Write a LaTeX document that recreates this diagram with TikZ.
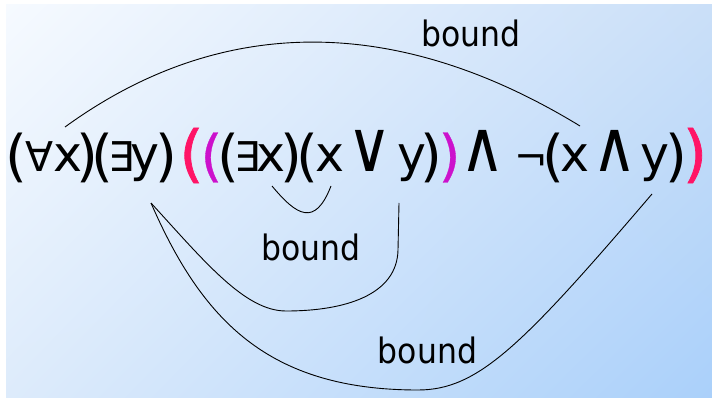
\documentclass[tikz,border=0pt]{standalone}
\usepackage{fontspec}
\usetikzlibrary{shadings}
\newfontfamily\fml{DejaVu Sans}
\newfontfamily\fmlpink[FakeBold=1.2]{DejaVu Sans}
\newfontfamily\fmlmag[FakeBold=0.6]{DejaVu Sans}
\newfontfamily\lbl{DejaVu Sans Condensed}
\definecolor{pinkp}{HTML}{FF1466}
\definecolor{magp}{HTML}{CC11CC}
\definecolor{bgA}{HTML}{F6FAFF}
\definecolor{bgB}{HTML}{CADFF8}
\definecolor{bgC}{HTML}{DDEBFB}
\definecolor{bgD}{HTML}{AAD0FA}
\newcommand{\opsym}[1]{\scalebox{1.22}[1.42]{#1}}
\tikzset{
  glyph/.style={anchor=base, inner sep=0pt, outer sep=0pt, font=\fml\fontsize{49}{49}\selectfont},
  quant/.style={anchor=base, inner sep=0pt, outer sep=0pt, font=\fml\fontsize{41}{41}\selectfont},
  oper/.style={anchor=base, inner sep=0pt, outer sep=0pt, font=\fml\fontsize{50}{50}\selectfont},
  negsym/.style={anchor=base, inner sep=0pt, outer sep=0pt, font=\fml\fontsize{40}{40}\selectfont},
  paren/.style={anchor=center, inner sep=0pt, outer sep=0pt, font=\fml\fontsize{56}{56}\selectfont},
  pinkparen/.style={anchor=center, inner sep=0pt, outer sep=0pt, text=pinkp, font=\fmlpink\fontsize{62}{62}\selectfont},
  magparen/.style={anchor=center, inner sep=0pt, outer sep=0pt, text=magp, font=\fmlmag\fontsize{56}{56}\selectfont},
  boundlbl/.style={anchor=base, inner sep=0pt, outer sep=0pt, font=\lbl\fontsize{35}{35}\selectfont},
  link/.style={draw=black, line width=0.9pt}
}
\begin{document}
\begin{tikzpicture}[x=1pt, y=-1pt]
\useasboundingbox (0,0) rectangle (712,398);
\fill[white] (0,0) rectangle (712,398);
\shade[upper left=bgA, upper right=bgB, lower left=bgC, lower right=bgD] (6,5) rectangle (712,398);
% formula
\node[paren] (p1) at (16.5,157.75) {(};
\node[quant] (fa) at (40,172) {∀};
\node[glyph] (x1) at (67.5,172) {x};
\node[paren] (p2) at (87.5,157.75) {)};
\node[paren] (p3) at (102.5,157.75) {(};
\node[quant] (ex1) at (121,172) {∃};
\node[glyph] (y1) at (144.5,172) {y};
\node[paren] (p4) at (166.5,157.75) {)};
\node[pinkparen] (pk1) at (191.5,155.5) {(};
\node[magparen] (mg1) at (211.5,157.5) {(};
\node[paren] (p5) at (228.5,157.75) {(};
\node[quant] (ex2) at (247,172) {∃};
\node[glyph] (x2) at (270.5,172) {x};
\node[paren] (p6) at (291,157.75) {)};
\node[paren] (p7) at (307.5,157.75) {(};
\node[glyph] (x3) at (330,172) {x};
\node[oper] (or) at (370,172) {\opsym{∨}};
\node[glyph] (y2) at (411.5,172) {y};
\node[paren] (p8) at (431,157.75) {)};
\node[magparen] (mg2) at (449.5,157.5) {)};
\node[oper] (and1) at (483,172) {\opsym{∧}};
\node[negsym] (neg) at (531.5,172) {¬};
\node[paren] (p9) at (553.5,157.75) {(};
\node[glyph] (x4) at (575,172) {x};
\node[oper] (and2) at (615,172) {\opsym{∧}};
\node[glyph] (y3) at (655,172) {y};
\node[paren] (p10) at (676.5,157.75) {)};
\node[pinkparen] (pk2) at (695,155.5) {)};
% labels
\node[boundlbl] (lb1) at (471,47) {bound};
\node[boundlbl] (lb2) at (311,260) {bound};
\node[boundlbl] (lb3) at (427.5,363) {bound};
% link ends
\coordinate (ta) at (65,127);
\coordinate (tb) at (580,126);
\coordinate (sa) at (272,186);
\coordinate (sb) at (331,186);
\coordinate (ma) at (151,203);
\coordinate (mbot) at (286,311);
\coordinate (mc) at (398,250);
\coordinate (mb) at (399,203);
\coordinate (lbot) at (418,390);
\coordinate (lb) at (652,194);
% links
\draw[link] (ta) .. controls (215,18) and (390,10) .. (tb);
\draw[link] (sa) .. controls (297,216) and (315,227) .. (sb);
\draw[link] (ma) .. controls (205,262) and (245,311) .. (mbot)
  .. controls (345,311) and (397,295) .. (mc) -- (mb);
\draw[link] (ma) .. controls (202,320) and (268,390) .. (lbot)
  .. controls (478,390) and (522,346) .. (lb);
\end{tikzpicture}
\end{document}
